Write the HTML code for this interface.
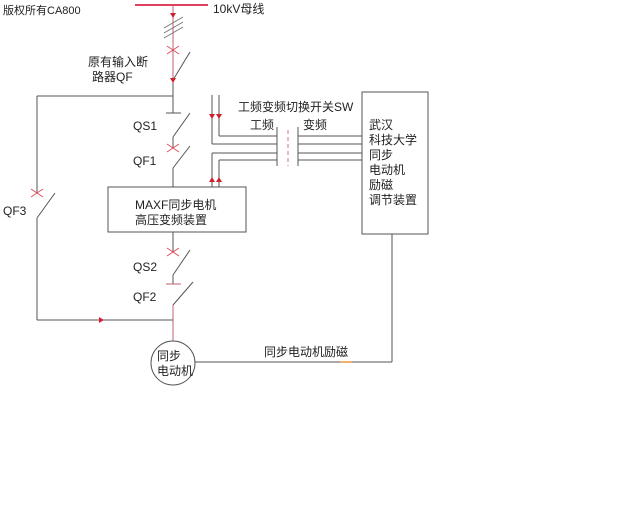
<!DOCTYPE html>
<html><head><meta charset="utf-8"><style>
html,body{margin:0;padding:0;background:#fff;}
svg{display:block;}
text{font-family:"Liberation Sans","Noto Sans CJK SC",sans-serif;font-size:12px;fill:#222;}
</style></head><body>
<svg width="640" height="512" viewBox="0 0 640 512" xmlns="http://www.w3.org/2000/svg">
<rect width="640" height="512" fill="#fff"/>
<text x="3" y="14" style="font-size:11px">版权所有CA800</text>
<line x1="135" y1="5" x2="208" y2="5" stroke="#e04060" stroke-width="2"/>
<text x="213" y="13">10kV母线</text>
<g stroke="#555" stroke-width="1" fill="none">
<line x1="173" y1="5" x2="173" y2="80" stroke="#c06070"/>
<line x1="164" y1="28" x2="183" y2="17" stroke="#777"/>
<line x1="164" y1="33" x2="183" y2="22" stroke="#777"/>
<line x1="164" y1="38" x2="183" y2="27" stroke="#777"/>
<line x1="173" y1="80" x2="190" y2="52"/>
<line x1="173" y1="78" x2="173" y2="113"/>
<line x1="37" y1="96" x2="173" y2="96"/>
<line x1="166" y1="113" x2="181" y2="113"/>
<line x1="173" y1="137" x2="190" y2="113"/>
<line x1="173" y1="137" x2="173" y2="148"/>
<line x1="173" y1="168" x2="190" y2="146"/>
<line x1="173" y1="168" x2="173" y2="187"/>
<rect x="108" y="187" width="138" height="45"/>
<line x1="173" y1="232" x2="173" y2="252"/>
<line x1="173" y1="275" x2="190" y2="250"/>
<line x1="173" y1="275" x2="173" y2="284"/>
<line x1="166" y1="284" x2="181" y2="284" stroke="#c06070"/>
<line x1="173" y1="305" x2="193" y2="282"/>
<line x1="173" y1="305" x2="173" y2="341" stroke="#c06070"/>
<line x1="37" y1="96" x2="37" y2="193"/>
<line x1="37" y1="218" x2="55" y2="193"/>
<line x1="37" y1="218" x2="37" y2="320"/>
<line x1="37" y1="320" x2="173" y2="320"/>
<circle cx="173" cy="363" r="22"/>
<line x1="195" y1="362" x2="392" y2="362"/>
<line x1="392" y1="234" x2="392" y2="362"/>
<rect x="362" y="92" width="66" height="142"/>
<line x1="212" y1="95" x2="212" y2="144"/>
<line x1="219" y1="95" x2="219" y2="136"/>
<line x1="219" y1="136" x2="277" y2="136"/>
<line x1="212" y1="144" x2="277" y2="144"/>
<line x1="212" y1="187" x2="212" y2="153"/>
<line x1="219" y1="187" x2="219" y2="160"/>
<line x1="212" y1="153" x2="277" y2="153"/>
<line x1="219" y1="160" x2="277" y2="160"/>
<line x1="277" y1="127" x2="277" y2="166"/>
<line x1="298" y1="127" x2="298" y2="166"/>
<line x1="298" y1="136" x2="362" y2="136"/>
<line x1="298" y1="144" x2="362" y2="144"/>
<line x1="298" y1="153" x2="362" y2="153"/>
<line x1="298" y1="160" x2="362" y2="160"/>
<line x1="288" y1="130" x2="288" y2="166" stroke="#d07080" stroke-dasharray="4,3"/>
</g>
<g stroke="#e05060" stroke-width="1">
<line x1="167" y1="46" x2="179" y2="54"/><line x1="167" y1="54" x2="179" y2="46"/>
<line x1="167" y1="144" x2="179" y2="152"/><line x1="167" y1="152" x2="179" y2="144"/>
<line x1="167" y1="248" x2="179" y2="256"/><line x1="167" y1="256" x2="179" y2="248"/>
<line x1="31" y1="189" x2="43" y2="197"/><line x1="31" y1="197" x2="43" y2="189"/>
</g>
<g fill="#d02030">
<polygon points="170,13 176,13 173,18"/>
<polygon points="170,78 176,78 173,83"/>
<polygon points="209,114 215,114 212,119"/>
<polygon points="216,114 222,114 219,119"/>
<polygon points="209,182 215,182 212,177"/>
<polygon points="216,182 222,182 219,177"/>
<polygon points="99,317 99,323 104,320"/>
</g>
<line x1="340" y1="362" x2="352" y2="362" stroke="#f0b070" stroke-width="2"/>
<text x="88" y="66">原有输入断</text>
<text x="92" y="81">路器QF</text>
<text x="133" y="130">QS1</text>
<text x="133" y="165">QF1</text>
<text x="133" y="271">QS2</text>
<text x="133" y="301">QF2</text>
<text x="3" y="215">QF3</text>
<text x="135" y="209">MAXF同步电机</text>
<text x="135" y="224">高压变频装置</text>
<text x="238" y="111">工频变频切换开关SW</text>
<text x="250" y="129">工频</text>
<text x="303" y="129">变频</text>
<text x="369" y="129">武汉</text>
<text x="369" y="144">科技大学</text>
<text x="369" y="159">同步</text>
<text x="369" y="174">电动机</text>
<text x="369" y="189">励磁</text>
<text x="369" y="204">调节装置</text>
<text x="157" y="360">同步</text>
<text x="157" y="375">电动机</text>
<text x="264" y="356">同步电动机励磁</text>
</svg>
</body></html>
